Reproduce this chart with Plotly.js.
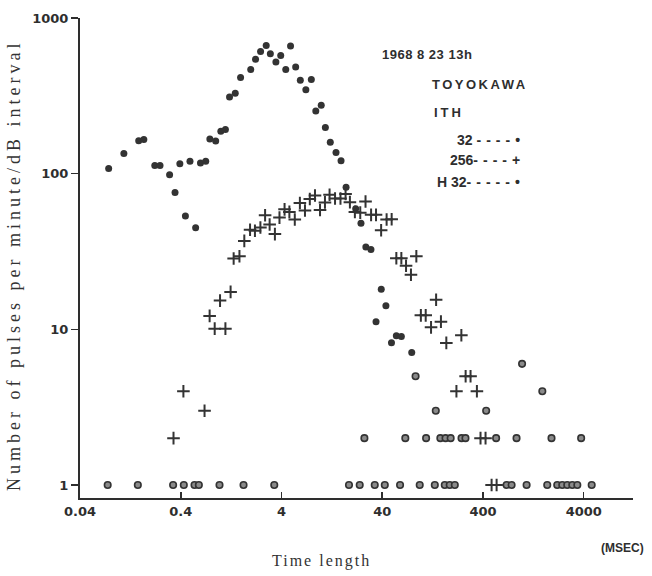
<!DOCTYPE html>
<html>
<head>
<meta charset="utf-8">
<script src="https://cdn.plot.ly/plotly-3.0.1.min.js"></script>
<style>
  html, body { margin: 0; padding: 0; background: #ffffff; }
  #chart { width: 652px; height: 576px; }
</style>
</head>
<body>
<div id="chart"></div>
<script>
// ---- data (time length in ms, pulses per minute/dB interval) ----
const s32_x = [0.077, 0.109, 0.153, 0.172, 0.221, 0.249, 0.310, 0.351, 0.392, 0.445, 0.494, 0.562,
  0.628, 0.708, 0.778, 0.889, 1.00, 1.11, 1.22, 1.39, 1.57, 1.98, 2.21, 2.48, 2.82, 3.10, 3.52, 3.93,
  4.41, 4.92, 5.53, 6.15, 6.98, 7.91, 8.76, 9.92, 10.9, 12.2, 13.9, 15.6, 17.5, 21.8, 24.6, 27.5, 30.9,
  39.1, 43.5, 34.7, 49.4, 55.2, 61.9, 78.5];
const s32_y = [108, 135, 163, 166, 113, 113, 98.5, 75.6, 116, 53.5, 120, 45.0,
  117, 120, 167, 162, 187, 192, 311, 329, 414, 466, 544, 610, 666, 590, 522, 575,
  466, 660, 484, 398, 346, 402, 253, 275, 198, 159, 137, 121, 81.8, 59.5, 48.0, 33.8, 32.6,
  18.1, 14.2, 11.2, 8.2, 9.1, 9.0, 7.1];

const s256_x = [0.339, 0.425, 0.689, 0.774, 0.869, 1.11, 0.982, 1.25, 1.34, 1.53, 1.71, 1.95, 2.18,
  2.47, 2.75, 3.05, 3.44, 3.82, 4.29, 4.79, 5.42, 6.09, 6.84, 7.64, 8.60, 9.65, 10.8, 12.0, 13.6,
  15.4, 17.3, 19.1, 21.4, 24.2, 27.3, 31.0, 34.7, 39.0, 44.2, 49.6, 55.2, 61.9, 68.9, 77.1, 87.2,
  137, 96.7, 108, 153, 122, 244, 173, 269, 301, 218, 348, 378, 424, 487, 546];
const s256_y = [2, 4, 3, 12.2, 10.1, 10.1, 15.3, 17.4, 28.5, 29.5, 37.0, 43.6, 43.0,
  45.1, 54.0, 47.1, 40.9, 52.2, 59.0, 56.8, 50.8, 64.8, 58.0, 68.7, 72.4, 58.4, 65.4, 73.2, 69.2,
  69.3, 74.1, 65.6, 56.7, 56.2, 66.3, 54.4, 54.4, 43.3, 50.8, 51.0, 28.6, 28.6, 25.6, 22.4, 29.5,
  15.5, 12.3, 12.3, 11.2, 10.3, 9.17, 8.18, 5, 5, 4, 4, 2, 2, 1, 1];

const h32_x = [0.0753, 0.150, 0.336, 0.429, 0.548, 0.605, 0.970, 1.68, 3.39, 18.7, 23.9, 33.7, 42.4,
  60.1, 94.2, 133, 167, 187, 210, 686, 769, 1084, 1737, 2183, 2449, 2744, 3079, 3454, 4797,
  26.6, 67.8, 109, 151, 170, 191, 245, 268, 540, 861, 1915, 3770,
  85.7, 136, 430, 977, 1552];
const h32_y = [1, 1, 1, 1, 1, 1, 1, 1, 1, 1, 1, 1, 1,
  1, 1, 1, 1, 1, 1, 1, 1, 1, 1, 1, 1, 1, 1, 1, 1,
  2, 2, 2, 2, 2, 2, 2, 2, 2, 2, 2, 2,
  5, 3, 3, 6, 4];

const xTickVals = [0.04, 0.4, 4, 40, 400, 4000];
const xTickText = ["0.04", "0.4", "4", "40", "400", "4000"];
const yTickVals = [1, 10, 100, 1000];
const yTickText = ["1", "10", "100", "1000"];

const legendLines = ["32 ----•", "256----+", "H 32-----•"];

// ---- styling ----
const ink = "#2e2e2e";
const tickFont = { family: "DejaVu Sans", size: 13, color: ink, weight: "bold" };
const letterFont = { family: "Liberation Sans", size: 13, color: ink, weight: "bold" };
const serif = { family: "Liberation Serif", size: 18, color: "#333" };
const spaced = (t, s) => '<span style="letter-spacing:' + s + 'px">' + t + '</span>';
const spacedDashes = t => t.replace(/-+/, m => spaced(m, 5));

const traces = [
  { x: s32_x, y: s32_y, type: "scatter", mode: "markers", name: "32",
    marker: { symbol: "circle", size: 7, color: "#333" }, cliponaxis: false },
  { x: s256_x, y: s256_y, type: "scatter", mode: "markers", name: "256",
    marker: { symbol: "cross-thin", size: 9, color: "#333", line: { color: "#333", width: 2 } }, cliponaxis: false },
  { x: h32_x, y: h32_y, type: "scatter", mode: "markers", name: "H 32",
    marker: { symbol: "circle", size: 6.5, color: "#8a8a8a", line: { color: "#333", width: 1.6 } }, cliponaxis: false }
];

const px = v => (v - 80) / 553;
const py = v => (498 - v) / 480;

const annotations = [
  { text: spaced("1968 8 23 13h", 0.5), x: px(427), y: py(55), font: { ...letterFont, size: 13 } },
  { text: spaced("TOYOKAWA", 2.5), x: px(480), y: py(85), font: letterFont },
  { text: spaced("ITH", 3), x: px(432), y: py(113), xanchor: "left", font: letterFont },
  { text: spacedDashes(legendLines[0]), x: px(522), y: py(140), xanchor: "right", font: { ...letterFont, size: 14 } },
  { text: spacedDashes(legendLines[1]), x: px(522), y: py(160), xanchor: "right", font: { ...letterFont, size: 14 } },
  { text: spacedDashes(legendLines[2]), x: px(522), y: py(182), xanchor: "right", font: { ...letterFont, size: 14 } },
  { text: "(MSEC)", x: px(622), y: py(548), font: { ...letterFont, size: 12 } },
  { text: spaced("Time length", 2), x: px(321), y: py(561), font: { ...serif, size: 16 } },
  { text: spaced("Number of pulses per minute/dB interval", 4),
    x: px(14), y: py(266), textangle: -90, font: serif }
].map(a => Object.assign({ xref: "paper", yref: "paper", showarrow: false, xanchor: "center", yanchor: "middle" }, a));

const layout = {
  width: 652, height: 576,
  margin: { l: 80, r: 19, t: 18, b: 78 },
  paper_bgcolor: "#ffffff", plot_bgcolor: "#ffffff",
  showlegend: false,
  xaxis: {
    type: "log", range: [Math.log10(0.04), 4.091], autorange: false,
    tickvals: xTickVals, ticktext: xTickText, tickfont: tickFont,
    ticks: "inside", ticklen: 6, tickwidth: 1.5, tickcolor: ink,
    showline: true, linecolor: ink, linewidth: 2, showgrid: false, zeroline: false
  },
  yaxis: {
    type: "log", range: [-0.0835, 3], autorange: false,
    tickvals: yTickVals, ticktext: yTickText, tickfont: tickFont,
    ticks: "outside", ticklen: 7, tickwidth: 1.5, tickcolor: ink,
    showline: true, linecolor: ink, linewidth: 2, showgrid: false, zeroline: false
  },
  annotations: annotations
};

Plotly.newPlot("chart", traces, layout, { staticPlot: true, displayModeBar: false });
</script>
</body>
</html>
